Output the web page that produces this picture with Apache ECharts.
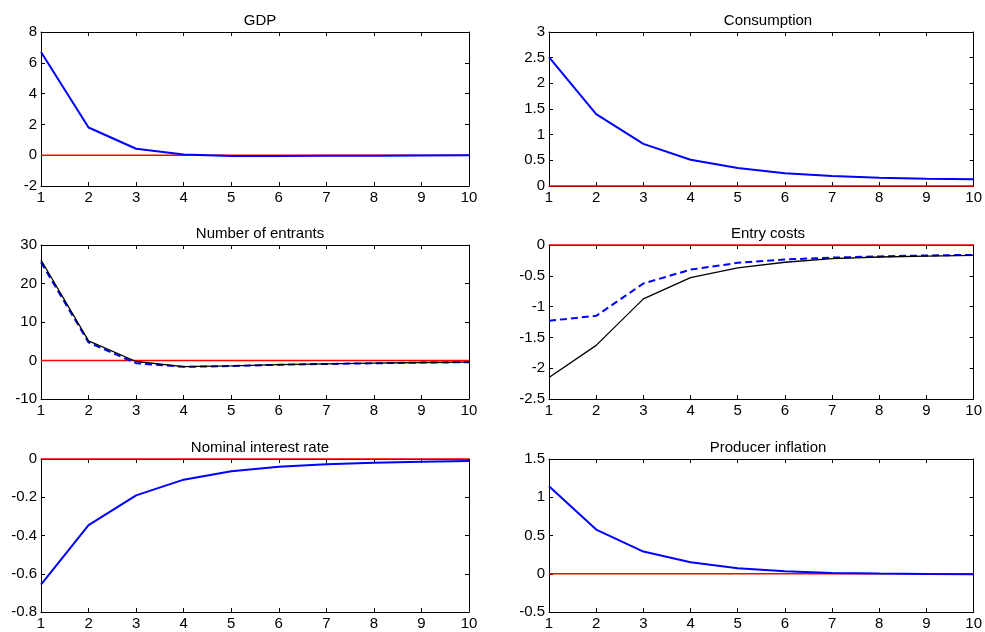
<!DOCTYPE html>
<html>
<head>
<meta charset="utf-8">
<script src="https://cdn.jsdelivr.net/npm/echarts@6/dist/echarts.min.js"></script>
<style>html,body{margin:0;padding:0;background:#fff;}#c{width:985px;height:632px;}</style>
</head>
<body>
<div id="c"></div>
<script>
const periods = [1, 2, 3, 4, 5, 6, 7, 8, 9, 10];
const zeroLine = [0, 0, 0, 0, 0, 0, 0, 0, 0, 0];
const titles = ['GDP', 'Consumption', 'Number of entrants', 'Entry costs', 'Nominal interest rate', 'Producer inflation'];

const gdpBlue = [6.7, 1.8, 0.42, 0.05, -0.05, -0.05, -0.04, -0.03, -0.02, -0.01];
const consBlue = [2.51, 1.40, 0.82, 0.51, 0.35, 0.25, 0.195, 0.16, 0.14, 0.13];
const entrantsBlack = [26.1, 5.1, -0.26, -1.57, -1.4, -1.05, -0.87, -0.7, -0.52, -0.43];
const entrantsBlue = [25.5, 4.7, -0.7, -1.65, -1.45, -1.1, -0.9, -0.72, -0.55, -0.45];
const entryBlack = [-2.15, -1.63, -0.875, -0.53, -0.37, -0.28, -0.22, -0.195, -0.18, -0.17];
const entryBlue = [-1.23, -1.15, -0.625, -0.40, -0.29, -0.235, -0.205, -0.185, -0.17, -0.16];
const rateBlue = [-0.657, -0.346, -0.19, -0.108, -0.064, -0.04, -0.028, -0.019, -0.014, -0.01];
const inflBlue = [1.144, 0.578, 0.29, 0.15, 0.072, 0.033, 0.011, 0.003, -0.002, -0.005];

const yMins = [-2, 0, -10, -2.5, -0.8, -0.5];
const yMaxs = [8, 3, 30, 0, 0, 1.5];
const yIntervals = [2, 0.5, 10, 0.5, 0.2, 0.5];

const panelLines = [
  [{d: gdpBlue, c: '#0000ff', t: 'solid', w: 2}],
  [{d: consBlue, c: '#0000ff', t: 'solid', w: 2}],
  [{d: entrantsBlue, c: '#0000ff', t: [7, 4], w: 2}, {d: entrantsBlack, c: '#000000', t: 'solid', w: 1.3}],
  [{d: entryBlue, c: '#0000ff', t: [7, 4], w: 2}, {d: entryBlack, c: '#000000', t: 'solid', w: 1.3}],
  [{d: rateBlue, c: '#0000ff', t: 'solid', w: 2}],
  [{d: inflBlue, c: '#0000ff', t: 'solid', w: 2}]
];

const FONT = '"Liberation Sans", Arial, Helvetica, sans-serif';
const colLeft = [41, 549];
const plotW = 428;
const rowTop = [32, 245, 459];
const rowH = [154, 154, 153];

const grids = [], xAxes = [], yAxes = [], series = [], titleArr = [];
for (let i = 0; i < 6; i++) {
  const col = i % 2, row = Math.floor(i / 2);
  grids.push({left: colLeft[col], top: rowTop[row], width: plotW, height: rowH[row], containLabel: false});
  titleArr.push({
    text: titles[i], left: colLeft[col] + plotW / 2, top: rowTop[row] - 24,
    textAlign: 'center',
    textStyle: {fontFamily: FONT, fontSize: 15, fontWeight: 'normal', color: '#000'}
  });
  const axLine = {show: true, onZero: false, lineStyle: {color: '#000', width: 1}};
  const tick = {show: true, inside: true, length: 4, lineStyle: {color: '#000', width: 1}};
  xAxes.push({
    type: 'value', gridIndex: i, min: 1, max: 10, interval: 1, position: 'bottom',
    axisLine: axLine, axisTick: tick, splitLine: {show: false},
    axisLabel: {show: true, margin: 4, fontFamily: FONT, fontSize: 15, color: '#000'}
  });
  xAxes.push({
    type: 'value', gridIndex: i, min: 1, max: 10, interval: 1, position: 'top',
    axisLine: axLine, axisTick: tick, splitLine: {show: false}, axisLabel: {show: false}
  });
  yAxes.push({
    type: 'value', gridIndex: i, min: yMins[i], max: yMaxs[i], interval: yIntervals[i], position: 'left',
    axisLine: axLine, axisTick: tick, splitLine: {show: false},
    axisLabel: {show: true, margin: 4, fontFamily: FONT, fontSize: 15, color: '#000'}
  });
  yAxes.push({
    type: 'value', gridIndex: i, min: yMins[i], max: yMaxs[i], interval: yIntervals[i], position: 'right',
    axisLine: axLine, axisTick: tick, splitLine: {show: false}, axisLabel: {show: false}
  });
  series.push({
    type: 'line', xAxisIndex: 2 * i, yAxisIndex: 2 * i, clip: false,
    data: periods.map((p, k) => [p, zeroLine[k]]),
    showSymbol: false, symbol: 'none', silent: true, animation: false,
    lineStyle: {color: '#ff0000', width: 1.5}, z: 3
  });
  panelLines[i].forEach((ln, j) => {
    series.push({
      type: 'line', xAxisIndex: 2 * i, yAxisIndex: 2 * i, clip: false,
      data: periods.map((p, k) => [p, ln.d[k]]),
      showSymbol: false, symbol: 'none', silent: true, animation: false,
      lineStyle: {color: ln.c, width: ln.w, type: ln.t}, z: 4 + j
    });
  });
}

const chart = echarts.init(document.getElementById('c'), null, {renderer: 'canvas'});
chart.setOption({
  animation: false,
  backgroundColor: '#ffffff',
  title: titleArr,
  grid: grids,
  xAxis: xAxes,
  yAxis: yAxes,
  series: series
});
</script>
</body>
</html>
